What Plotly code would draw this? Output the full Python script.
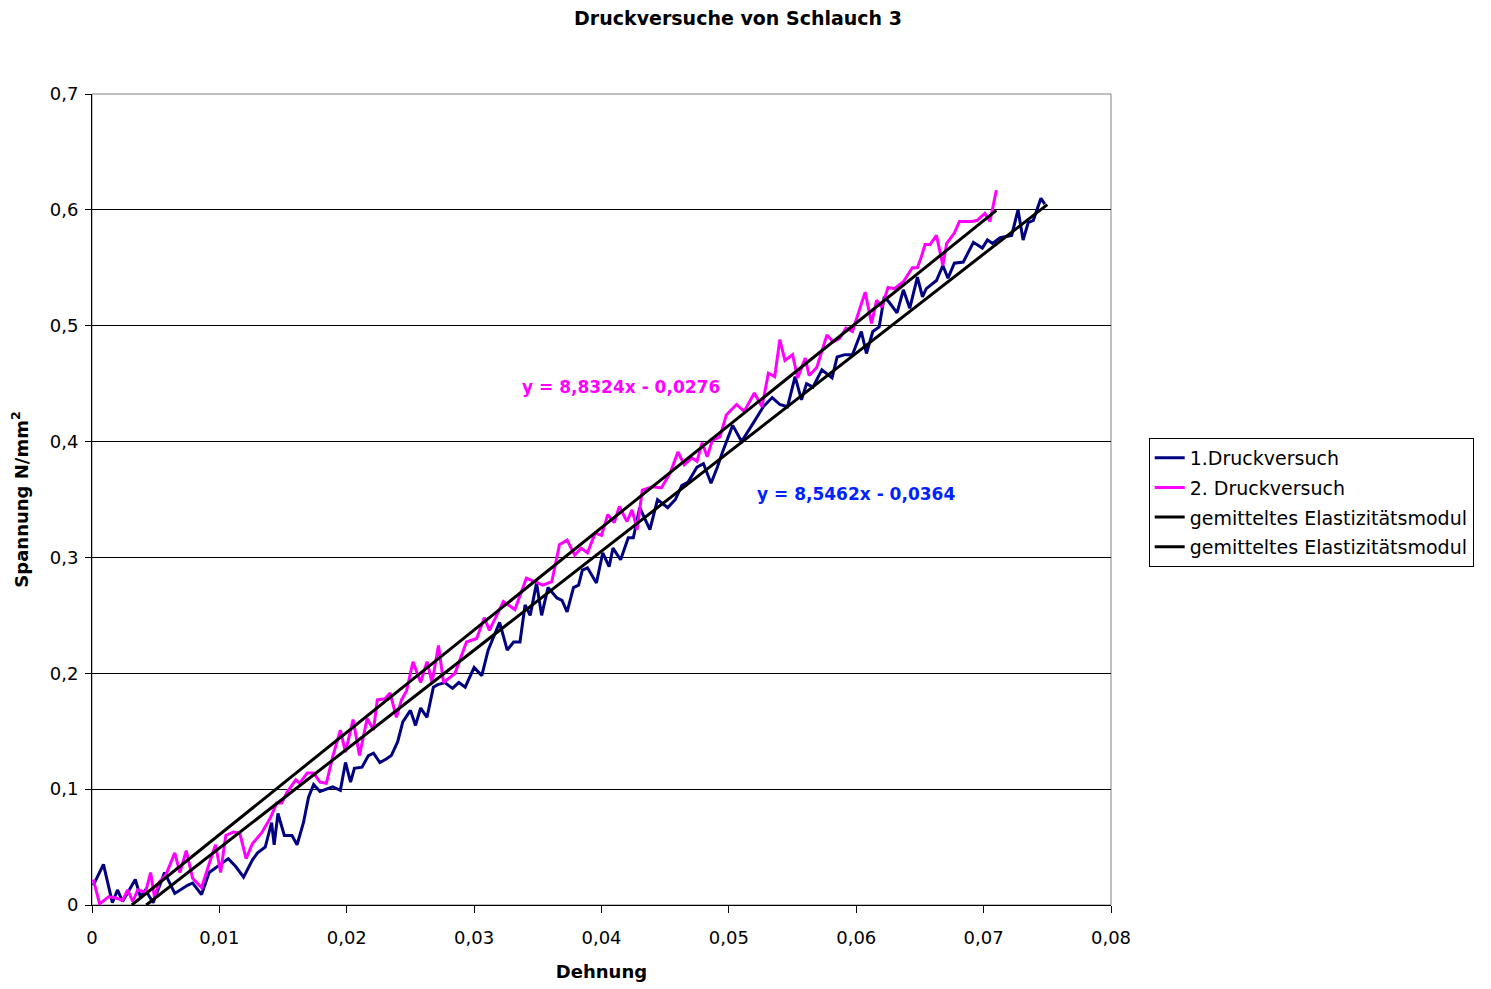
import plotly.graph_objects as go

# 1. Druckversuch (strain, stress)
x1 = [0.0001, 0.0009, 0.0016, 0.0020, 0.0024, 0.0034, 0.0038, 0.0042, 0.0048, 0.0057,
      0.0065, 0.0075, 0.0079, 0.0086, 0.0092, 0.0100, 0.0107, 0.0113, 0.0119, 0.0126,
      0.0130, 0.0136, 0.0141, 0.0143, 0.0146, 0.0151, 0.0157, 0.0161, 0.0166, 0.0170,
      0.0174, 0.0179, 0.0184, 0.0189, 0.0195, 0.0199, 0.0203, 0.0206, 0.0212, 0.0217,
      0.0221, 0.0226, 0.0231, 0.0235, 0.0240, 0.0244, 0.0250, 0.0254, 0.0258, 0.0263,
      0.0268, 0.0271, 0.0277, 0.0283, 0.0288, 0.0293, 0.0300, 0.0306, 0.0311, 0.0320,
      0.0326, 0.0331, 0.0336, 0.0340, 0.0344, 0.0349, 0.0353, 0.0358, 0.0365, 0.0369,
      0.0373, 0.0378, 0.0382, 0.0385, 0.0389, 0.0396, 0.0401, 0.0406, 0.0409, 0.0415,
      0.0421, 0.0425, 0.0430, 0.0434, 0.0438, 0.0444, 0.0452, 0.0458, 0.0463, 0.0468,
      0.0475, 0.0480, 0.0486, 0.0491, 0.0495, 0.0503, 0.0510, 0.0518, 0.0527, 0.0534,
      0.0540, 0.0546, 0.0552, 0.0557, 0.0561, 0.0566, 0.0573, 0.0581, 0.0585, 0.0591,
      0.0597, 0.0604, 0.0608, 0.0613, 0.0618, 0.0622, 0.0626, 0.0632, 0.0637, 0.0642,
      0.0648, 0.0652, 0.0655, 0.0663, 0.0668, 0.0672, 0.0677, 0.0684, 0.0692, 0.0699,
      0.0703, 0.0707, 0.0713, 0.0722, 0.0727, 0.0731, 0.0735, 0.0739, 0.0745, 0.0748]
y1 = [0.017, 0.035, 0.002, 0.013, 0.003, 0.022, 0.007, 0.013, 0.002, 0.028,
      0.010, 0.017, 0.019, 0.009, 0.028, 0.034, 0.040, 0.033, 0.024, 0.039,
      0.045, 0.050, 0.071, 0.052, 0.079, 0.060, 0.060, 0.052, 0.071, 0.093,
      0.104, 0.098, 0.100, 0.102, 0.099, 0.123, 0.106, 0.118, 0.119, 0.129,
      0.131, 0.123, 0.126, 0.129, 0.141, 0.158, 0.168, 0.155, 0.170, 0.162,
      0.188, 0.190, 0.192, 0.187, 0.192, 0.188, 0.205, 0.198, 0.220, 0.244,
      0.220, 0.227, 0.227, 0.259, 0.250, 0.278, 0.250, 0.274, 0.265, 0.263,
      0.253, 0.274, 0.276, 0.289, 0.291, 0.278, 0.304, 0.292, 0.308, 0.298,
      0.317, 0.317, 0.343, 0.334, 0.324, 0.350, 0.343, 0.350, 0.362, 0.365,
      0.378, 0.381, 0.364, 0.378, 0.391, 0.414, 0.400, 0.414, 0.430, 0.438,
      0.432, 0.430, 0.456, 0.436, 0.450, 0.447, 0.462, 0.455, 0.473, 0.475,
      0.475, 0.495, 0.476, 0.495, 0.499, 0.525, 0.520, 0.511, 0.531, 0.515,
      0.542, 0.525, 0.532, 0.539, 0.552, 0.541, 0.554, 0.555, 0.572, 0.567,
      0.574, 0.571, 0.576, 0.578, 0.600, 0.574, 0.589, 0.591, 0.610, 0.605]

# 2. Druckversuch
x2 = [0.0001, 0.0006, 0.0013, 0.0019, 0.0024, 0.0028, 0.0032, 0.0036, 0.0042, 0.0046,
      0.0049, 0.0053, 0.0058, 0.0065, 0.0069, 0.0074, 0.0079, 0.0086, 0.0093, 0.0097,
      0.0101, 0.0105, 0.0111, 0.0116, 0.0121, 0.0126, 0.0133, 0.0140, 0.0145, 0.0149,
      0.0153, 0.0160, 0.0163, 0.0169, 0.0174, 0.0179, 0.0184, 0.0189, 0.0195, 0.0199,
      0.0205, 0.0210, 0.0216, 0.0221, 0.0224, 0.0230, 0.0234, 0.0239, 0.0243, 0.0247,
      0.0252, 0.0258, 0.0263, 0.0267, 0.0272, 0.0276, 0.0285, 0.0294, 0.0302, 0.0308,
      0.0312, 0.0323, 0.0332, 0.0341, 0.0348, 0.0354, 0.0361, 0.0367, 0.0373, 0.0379,
      0.0384, 0.0389, 0.0395, 0.0400, 0.0405, 0.0410, 0.0414, 0.0420, 0.0424, 0.0428,
      0.0432, 0.0440, 0.0447, 0.0454, 0.0460, 0.0465, 0.0471, 0.0475, 0.0479, 0.0483,
      0.0487, 0.0493, 0.0498, 0.0506, 0.0512, 0.0520, 0.0526, 0.0531, 0.0536, 0.0540,
      0.0544, 0.0550, 0.0554, 0.0560, 0.0563, 0.0569, 0.0577, 0.0582, 0.0587, 0.0592,
      0.0597, 0.0607, 0.0612, 0.0616, 0.0620, 0.0625, 0.0630, 0.0637, 0.0644, 0.0648,
      0.0651, 0.0654, 0.0658, 0.0663, 0.0668, 0.0671, 0.0677, 0.0681, 0.0691, 0.0695,
      0.0701, 0.0705, 0.0710]
y2 = [0.022, 0.001, 0.007, 0.006, 0.004, 0.013, 0.003, 0.013, 0.011, 0.028,
      0.007, 0.020, 0.026, 0.045, 0.028, 0.047, 0.023, 0.015, 0.039, 0.052,
      0.028, 0.060, 0.063, 0.062, 0.040, 0.053, 0.062, 0.075, 0.088, 0.088,
      0.097, 0.108, 0.105, 0.114, 0.114, 0.106, 0.105, 0.128, 0.151, 0.132,
      0.160, 0.129, 0.161, 0.151, 0.177, 0.178, 0.183, 0.162, 0.177, 0.185,
      0.210, 0.192, 0.210, 0.192, 0.224, 0.192, 0.200, 0.227, 0.230, 0.248,
      0.237, 0.262, 0.255, 0.282, 0.279, 0.276, 0.279, 0.311, 0.315, 0.302,
      0.308, 0.304, 0.321, 0.319, 0.337, 0.330, 0.344, 0.331, 0.341, 0.324,
      0.358, 0.361, 0.360, 0.373, 0.391, 0.380, 0.386, 0.383, 0.399, 0.387,
      0.401, 0.404, 0.423, 0.432, 0.426, 0.442, 0.430, 0.459, 0.456, 0.488,
      0.470, 0.475, 0.455, 0.472, 0.457, 0.464, 0.492, 0.486, 0.489, 0.498,
      0.495, 0.529, 0.502, 0.522, 0.516, 0.533, 0.532, 0.538, 0.550, 0.550,
      0.559, 0.570, 0.570, 0.578, 0.552, 0.571, 0.580, 0.590, 0.590, 0.591,
      0.597, 0.590, 0.617]

# Linear regressions (slope, intercept) and x extents
fit2_slope, fit2_icpt = 8.8324, -0.0276
fit1_slope, fit1_icpt = 8.5462, -0.0364
fit2_xrange = [-fit2_icpt / fit2_slope, 0.071]
fit1_xrange = [-fit1_icpt / fit1_slope, 0.075]

x_ticks = [0, 0.01, 0.02, 0.03, 0.04, 0.05, 0.06, 0.07, 0.08]
x_ticktext = ["0", "0,01", "0,02", "0,03", "0,04", "0,05", "0,06", "0,07", "0,08"]
y_ticks = [0, 0.1, 0.2, 0.3, 0.4, 0.5, 0.6, 0.7]
y_ticktext = ["0", "0,1", "0,2", "0,3", "0,4", "0,5", "0,6", "0,7"]

FONT = "DejaVu Sans"
fig = go.Figure()
fig.add_trace(go.Scatter(x=x1, y=y1, mode="lines", name="1.Druckversuch", legendgroup="a",
                         line=dict(color="#000080", width=3)))
fig.add_trace(go.Scatter(x=x2, y=y2, mode="lines", name="2. Druckversuch", legendgroup="b",
                         line=dict(color="#FF00FF", width=3)))
fig.add_trace(go.Scatter(x=fit2_xrange, y=[fit2_slope * v + fit2_icpt for v in fit2_xrange],
                         mode="lines", name="gemitteltes Elastizitätsmodul", legendgroup="c",
                         line=dict(color="black", width=3)))
fig.add_trace(go.Scatter(x=fit1_xrange, y=[fit1_slope * v + fit1_icpt for v in fit1_xrange],
                         mode="lines", name="gemitteltes Elastizitätsmodul", legendgroup="d",
                         line=dict(color="black", width=3)))

fig.add_annotation(x=0.0415, y=0.447, xref="x", yref="y", showarrow=False,
                   text="<b>y = 8,8324x - 0,0276</b>",
                   font=dict(family=FONT, size=17, color="#FF00FF"))
fig.add_annotation(x=0.060, y=0.355, xref="x", yref="y", showarrow=False,
                   text="<b>y = 8,5462x - 0,0364</b>",
                   font=dict(family=FONT, size=17, color="#0022FF"))

fig.update_layout(
    width=1491, height=989,
    margin=dict(l=92, r=380, t=94, b=84),
    paper_bgcolor="white", plot_bgcolor="white",
    font=dict(family=FONT, size=16, color="black"),
    title=dict(text="<b>Druckversuche von Schlauch 3</b>", x=0.495, xanchor="center",
               y=0.981, yanchor="middle", font=dict(family=FONT, size=19)),
    showlegend=True,
    legend=dict(x=1.037, y=0.576, xanchor="left", yanchor="top",
                bordercolor="black", borderwidth=1, bgcolor="white",
                font=dict(family=FONT, size=19), traceorder="grouped",
                tracegroupgap=2, itemwidth=30),
    hovermode=False,
)
fig.update_xaxes(range=[0, 0.08], tickvals=x_ticks, ticktext=x_ticktext, automargin=False,
                 showgrid=False, zeroline=False, showline=True, linecolor="black",
                 linewidth=1, mirror=False, ticks="outside", ticklen=7,
                 tickcolor="black", tickfont=dict(size=18), ticklabelstandoff=9,
                 title=dict(text="<b>Dehnung</b>", font=dict(size=18), standoff=18))
fig.update_yaxes(range=[0, 0.7], tickvals=y_ticks, ticktext=y_ticktext, automargin=False,
                 showgrid=True, gridcolor="black", gridwidth=1, zeroline=False,
                 showline=True, linecolor="black", linewidth=1, ticks="outside",
                 ticklen=6, tickcolor="black", tickfont=dict(size=18), ticklabelstandoff=3,
                 title=dict(text="<b>Spannung N/mm<sup>2</sup></b>", font=dict(size=18),
                            standoff=16))
# gray frame on top and right
fig.add_shape(type="rect", xref="paper", yref="paper", x0=0, y0=0, x1=1, y1=1,
              line=dict(color="#808080", width=1), layer="below")

fig.write_html("out.html")
